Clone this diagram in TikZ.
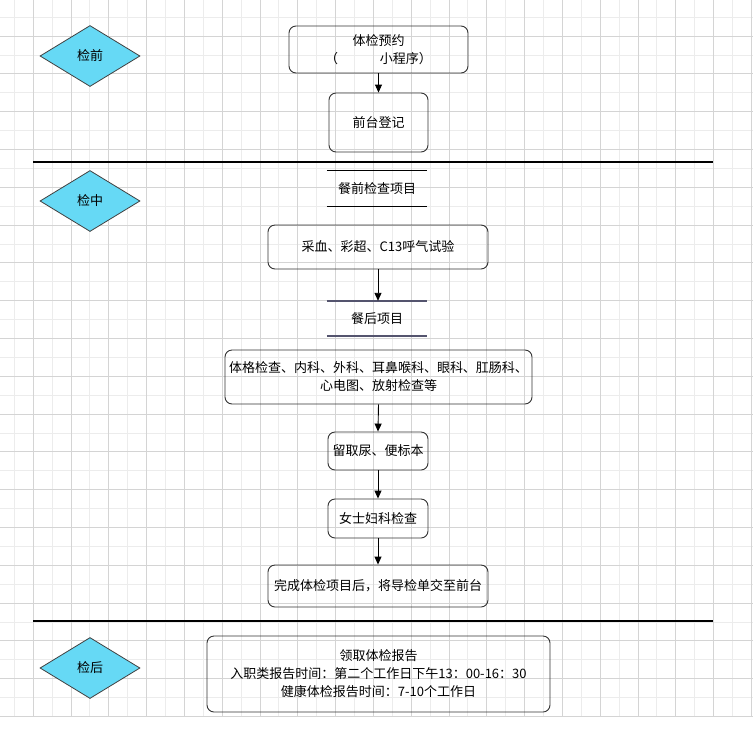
\documentclass[tikz,border=0pt]{standalone}
\usepackage{fontspec}
\setmainfont{Noto Sans CJK SC}
\usetikzlibrary{arrows.meta,shapes.geometric}
\definecolor{dia}{RGB}{102,217,245}
\definecolor{gridlo}{RGB}{236,236,236}
\definecolor{gridhi}{RGB}{212,212,212}
\definecolor{slate}{RGB}{84,84,110}
\begin{document}
\begin{tikzpicture}[x=1pt, y=-1pt, font=\fontsize{13}{18}\selectfont, >={Triangle[width=7pt,length=8pt]},
	box/.style={draw=black!80, line width=0.9pt, rounded corners=7pt, inner sep=0pt, align=center},
	stage/.style={diamond, draw=black!75, fill=dia, line width=0.8pt, inner sep=0pt, minimum width=100, minimum height=61},
	band/.style={inner sep=0pt, minimum width=100, minimum height=35}]
	\useasboundingbox (0,0) rectangle (753,732);
	\fill[white] (0,0) rectangle (753,732);
	% grid
	\foreach \k in {0,...,19} \draw[gridlo, line width=0.8pt] ({14.2+37.8*\k},0)--({14.2+37.8*\k},716.4);
	\foreach \k in {0,...,18} \draw[gridlo, line width=0.8pt] (0,{17.1+37.8*\k})--(753,{17.1+37.8*\k});
	\foreach \k in {0,...,19} \draw[gridhi, line width=0.8pt] ({33.1+37.8*\k},0)--({33.1+37.8*\k},716.4);
	\foreach \k in {0,...,18} \draw[gridhi, line width=0.8pt] (0,{36+37.8*\k})--(753,{36+37.8*\k});
	% stages
	\node[stage] (S1) at (90,56) {检前};
	\node[stage] (S2) at (90,201) {检中};
	\node[stage] (S3) at (90,668) {检后};
	\draw[line width=1.1pt] (33,162)--(713,162);
	\draw[line width=1.1pt] (33,621)--(713,621);
	% steps
	\node[box, minimum width=179, minimum height=47] (yy) at (378.5,49.5) {体检预约\\（\hspace{3.2em}小程序）};
	\node[box, minimum width=99, minimum height=59] (dj) at (378.5,122.5) {前台登记};
	\node[band] (cq) at (377,188.5) {餐前检查项目};
	\draw[line width=0.9pt] (cq.north west)--(cq.north east) (cq.south west)--(cq.south east);
	\node[box, minimum width=220, minimum height=44] (cx) at (378,247) {采血、彩超、C13呼气试验};
	\node[band] (ch) at (377,318.5) {餐后项目};
	\draw[slate, line width=1.6pt] (ch.north west)--(ch.north east) (ch.south west)--(ch.south east);
	\node[box, minimum width=307, minimum height=54] (tg) at (378.5,377) {体格检查、内科、外科、耳鼻喉科、眼科、肛肠科、\\心电图、放射检查等};
	\node[box, minimum width=100, minimum height=38] (nb) at (378,451) {留取尿、便标本};
	\node[box, minimum width=100, minimum height=39] (fk) at (378,518.5) {女士妇科检查};
	\node[box, minimum width=220, minimum height=42] (wc) at (378,586) {完成体检项目后，将导检单交至前台};
	\node[box, minimum width=343, minimum height=76] (bg) at (378.5,674) {领取体检报告\\入职类报告时间：第二个工作日下午13：00-16：30\\健康体检报告时间：7-10个工作日};
	% arrows
	\draw[->, line width=0.9pt] (yy.south)--(dj.north);
	\draw[->, line width=0.9pt] (cx.south)--(cx.south|-ch.north);
	\draw[->, line width=0.9pt] (tg.south)--(nb.north);
	\draw[->, line width=0.9pt] (nb.south)--(fk.north);
	\draw[->, line width=0.9pt] (fk.south)--(wc.north);
\end{tikzpicture}
\end{document}
